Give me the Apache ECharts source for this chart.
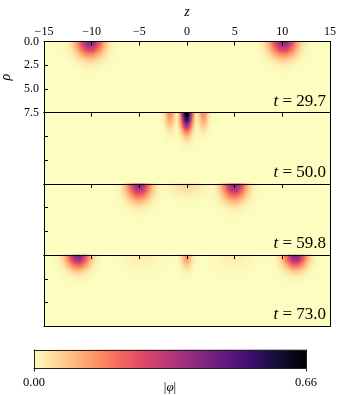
<!DOCTYPE html>
<html>
<head>
<meta charset="utf-8">
<script src="https://cdn.jsdelivr.net/npm/echarts@6/dist/echarts.min.js"></script>
<style>
  html, body { margin: 0; padding: 0; background: #fff; }
  #chart { width: 341px; height: 395px; }
</style>
</head>
<body>
<div id="chart"></div>
<script>
// snapshot times shown in the lower right of each panel
const snapshotTimes = ['29.7', '50.0', '59.8', '73.0'];
const zRange = [-15, 15];
const rhoRange = [0, 7.5];
const phiMax = 0.66;

// wave packets: centre in z, peak |phi|, widths in z and rho
const packetZ = [
  [-10.15, 10.15],
  [0, -1.75, 1.75],
  [-5.0, 5.0, 0],
  [-11.4, 11.4, 0, -4.7, 5.0]
];
const packetPeak = [
  [0.40, 0.40],
  [0.66, 0.16, 0.16],
  [0.40, 0.40, 0.06],
  [0.42, 0.42, 0.15, 0.025, 0.025]
];
const packetWidthZ = [
  [1.35, 1.35],
  [0.58, 0.5, 0.5],
  [1.2, 1.2, 1.8],
  [1.15, 1.15, 0.55, 1.8, 1.8]
];
const packetWidthRho = [
  [1.5, 1.5],
  [1.8, 1.6, 1.6],
  [1.6, 1.6, 1.1],
  [1.35, 1.35, 1.3, 1.4, 1.4]
];

// magma, reversed (0 -> pale yellow, max -> black)
const magmaReversed = ['#fcfdbf', '#fecf92', '#fe9f6d', '#f7705c', '#de4968', '#b73779',
  '#8c2981', '#641a80', '#3b0f70', '#140e36', '#000004'];

const chartDom = document.getElementById('chart');
const myChart = echarts.init(chartDom, null, { renderer: 'canvas' });

const serif = 'Liberation Serif';
const cell = 0.125;
const nz = Math.round((zRange[1] - zRange[0]) / cell);
const nr = Math.round((rhoRange[1] - rhoRange[0]) / cell);
const zCells = [];
const rhoCells = [];
for (let i = 0; i < nz; i++) zCells.push((zRange[0] + (i + 0.5) * cell).toFixed(4));
for (let j = 0; j < nr; j++) rhoCells.push((rhoRange[0] + (j + 0.5) * cell).toFixed(4));

const buildPanel = (p) => {
  const data = [];
  for (let i = 0; i < nz; i++) {
    const z = +zCells[i];
    for (let j = 0; j < nr; j++) {
      const rho = +rhoCells[j];
      let v = 0;
      packetZ[p].forEach((zc, k) => {
        const dz = (z - zc) / packetWidthZ[p][k];
        const dr = rho / packetWidthRho[p][k];
        v = Math.max(v, packetPeak[p][k] * Math.exp(-dz * dz - dr * dr));
      });
      data.push([i, j, v]);
    }
  }
  return data;
};

const panelLeft = 44;
const panelWidth = 286;
const panelTop = 41.5;
const panelHeight = 71.2;

const grids = [];
const xAxes = [];
const yAxes = [];
const series = [];
const graphics = [];
const minus = v => String(v).replace('-', '\u2212');
const edge = (color) => ({ show: true, onZero: false, lineStyle: { color: color, width: 1 } });
// fixed boxes: do not let v6 shrink grids to fit labels
const box = (left, top, width, height) => ({ left, top, width, height, containLabel: false, outerBoundsMode: 'none' });

snapshotTimes.forEach((t, p) => {
  grids.push(box(panelLeft, panelTop + p * panelHeight, panelWidth, panelHeight));
  const first = p === 0;
  // cell axes used by the heatmap; their lines close the box on bottom/right
  xAxes.push({
    type: 'category', gridIndex: p, data: zCells, position: 'bottom', z: 10,
    axisLine: edge('#000'), axisTick: { show: false }, axisLabel: { show: false }, splitLine: { show: false }
  });
  yAxes.push({
    type: 'category', gridIndex: p, data: rhoCells, position: 'right', inverse: true, z: 10,
    axisLine: edge('#000'), axisTick: { show: false }, axisLabel: { show: false }, splitLine: { show: false }
  });
  // scale axes carrying ticks and labels
  xAxes.push({
    type: 'value', gridIndex: p, position: 'top', min: zRange[0], max: zRange[1], interval: 5, z: 10,
    name: first ? 'z' : '', nameLocation: 'middle', nameGap: 22,
    nameTextStyle: { fontFamily: serif, fontStyle: 'italic', fontSize: 14, color: '#000' },
    axisLine: edge('#000'),
    axisTick: { show: true, inside: true, length: 4, lineStyle: { color: '#000' } },
    axisLabel: { show: first, margin: 4, fontFamily: serif, fontSize: 12, color: '#000', formatter: minus },
    splitLine: { show: false }
  });
  yAxes.push({
    type: 'value', gridIndex: p, position: 'left', min: rhoRange[0], max: rhoRange[1], interval: 2.5,
    inverse: true, z: 10,
    name: first ? 'ρ' : '', nameLocation: 'middle', nameGap: 27,
    nameTextStyle: { fontFamily: serif, fontStyle: 'italic', fontSize: 14, color: '#000' },
    axisLine: edge('#000'),
    axisTick: { show: true, inside: true, length: 4, lineStyle: { color: '#000' } },
    axisLabel: { show: first, margin: 5, fontFamily: serif, fontSize: 12, color: '#000', formatter: v => v.toFixed(1) },
    splitLine: { show: false }
  });
  series.push({
    type: 'heatmap', xAxisIndex: 2 * p, yAxisIndex: 2 * p,
    data: buildPanel(p), progressive: 0, emphasis: { disabled: true }
  });
  graphics.push({
    type: 'text', right: 15, top: panelTop + (p + 1) * panelHeight - 20, z: 100,
    style: {
      text: '{i|t} = ' + t, fontFamily: serif, fontSize: 17, fill: '#000',
      rich: { i: { fontFamily: serif, fontStyle: 'italic', fontSize: 17 } }
    }
  });
});

// colour bar: its own grid, filled through the same visualMap
const cbarSteps = [];
for (let k = 0; k < 136; k++) cbarSteps.push(phiMax * (k + 0.5) / 136);
const cb = snapshotTimes.length;
grids.push(box(34, 350, 272, 18));
xAxes.push({
  type: 'category', gridIndex: cb, data: cbarSteps.map(String), position: 'top', z: 10,
  axisLine: edge('#222'), axisTick: { show: false }, axisLabel: { show: false }, splitLine: { show: false }
});
xAxes.push({
  type: 'value', gridIndex: cb, position: 'bottom', min: 0, max: phiMax, interval: phiMax, z: 10,
  axisLine: edge('#222'),
  axisTick: { show: true, inside: false, length: 3.5, lineStyle: { color: '#222' } },
  axisLabel: { margin: 8, fontFamily: serif, fontSize: 12.5, color: '#000', formatter: v => v.toFixed(2) },
  splitLine: { show: false }
});
yAxes.push({
  type: 'category', gridIndex: cb, data: ['0'], position: 'left', z: 10,
  axisLine: edge('#222'), axisTick: { show: false }, axisLabel: { show: false }, splitLine: { show: false }
});
yAxes.push({
  type: 'value', gridIndex: cb, position: 'right', min: 0, max: 1, z: 10,
  axisLine: edge('#222'), axisTick: { show: false }, axisLabel: { show: false }, splitLine: { show: false }
});
series.push({
  type: 'heatmap', xAxisIndex: 2 * cb, yAxisIndex: 2 * cb,
  data: cbarSteps.map((v, k) => [k, 0, v]), progressive: 0, emphasis: { disabled: true }
});
// colour bar label |phi|
graphics.push({
  type: 'text', x: 170, y: 388, z: 100,
  style: {
    text: '{n||}{i|φ}{n||}', align: 'center', verticalAlign: 'middle', fontFamily: serif, fontSize: 13, fill: '#000',
    rich: { n: { fontFamily: serif, fontSize: 13 }, i: { fontFamily: serif, fontStyle: 'italic', fontSize: 13 } }
  }
});

const option = {
  animation: false,
  backgroundColor: '#fff',
  textStyle: { fontFamily: serif },
  grid: grids,
  xAxis: xAxes,
  yAxis: yAxes,
  visualMap: {
    type: 'continuous', show: false, min: 0, max: phiMax,
    seriesIndex: series.map((s, k) => k),
    inRange: { color: magmaReversed }
  },
  graphic: graphics,
  series: series
};

myChart.setOption(option);
window.addEventListener('resize', () => myChart.resize());
</script>
</body>
</html>
